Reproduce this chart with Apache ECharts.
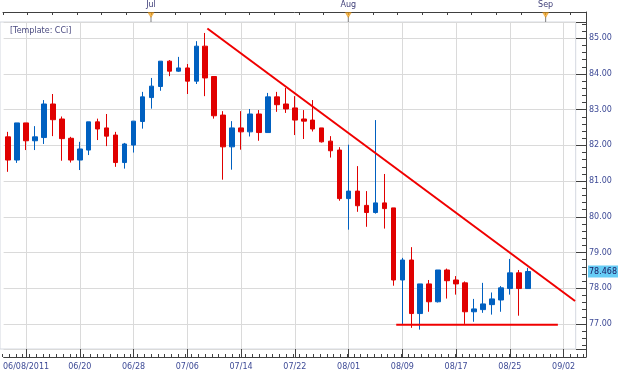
<!DOCTYPE html>
<html><head><meta charset="utf-8">
<script src="https://cdn.jsdelivr.net/npm/echarts@6/dist/echarts.min.js"></script>
<style>html,body{margin:0;padding:0;background:#fff}#c{width:625px;height:375px}</style>
</head><body><div id="c"></div>
<script>
// ---- data ----
const dates = ['06/06','06/07','06/08','06/09','06/10','06/13','06/14','06/17','06/20','06/21','06/22','06/23','06/24','06/27','06/28','06/30','07/01','07/03','07/04','07/05','07/06','07/07','07/08','07/11','07/12','07/13','07/14','07/15','07/18','07/19','07/20','07/21','07/22','07/25','07/26','07/27','07/28','07/29','08/01','08/02','08/03','08/04','08/05','08/08','08/09','08/10','08/11','08/12','08/15','08/16','08/17','08/18','08/19','08/22','08/23','08/24','08/25','08/26','08/29','08/30','08/31','09/01','09/02','09/05','09/06'];
const opens  = [82.24,81.59,82.63,82.13,82.22,83.16,82.74,82.20,81.59,81.87,82.66,82.49,82.29,81.52,82.01,82.67,83.34,83.65,84.36,84.08,84.17,83.80,84.78,83.93,82.85,81.96,82.49,82.38,82.88,82.36,83.36,83.16,83.05,82.74,82.71,82.49,82.12,81.87,80.51,80.72,80.32,80.12,80.39,80.25,78.23,78.79,77.29,78.12,77.62,78.51,78.23,78.15,77.34,77.40,77.54,77.67,77.99,78.43,77.99];
const highs  = [82.38,82.63,82.63,82.54,83.27,83.44,82.81,82.24,82.10,82.66,82.75,82.88,82.38,82.07,82.68,83.50,83.89,84.36,84.39,84.48,84.28,84.92,85.15,83.93,82.96,82.68,82.96,83.02,82.99,83.47,83.50,83.61,83.38,82.99,83.27,82.49,82.26,81.95,82.02,81.42,80.72,82.71,81.20,80.25,78.85,79.15,78.12,78.23,78.51,78.55,78.34,78.19,77.70,78.15,77.88,78.06,78.82,78.51,78.57];
const lows   = [81.26,81.51,81.87,81.87,82.04,82.26,81.57,81.52,81.31,81.73,82.15,81.98,81.40,81.35,81.80,82.47,83.03,83.53,83.94,84.06,83.44,83.72,83.38,82.75,81.04,81.32,81.88,82.25,82.13,82.36,82.94,82.91,82.29,82.18,82.39,82.08,81.66,80.45,79.64,80.14,79.72,80.09,79.67,78.07,77.00,76.89,76.84,77.34,77.60,77.71,77.82,77.00,77.06,77.31,77.26,77.34,77.82,77.23,77.99];
const closes = [81.59,82.63,82.13,82.24,83.16,82.72,82.19,81.59,81.90,82.66,82.46,82.26,81.52,82.04,82.68,83.36,83.66,84.36,84.08,84.17,83.80,84.78,83.89,82.83,81.96,82.49,82.38,82.88,82.36,83.36,83.14,83.02,82.71,82.68,82.46,82.10,81.85,80.51,80.72,80.31,80.12,80.39,80.23,78.23,78.79,77.29,78.12,77.62,78.51,78.21,78.12,77.34,77.42,77.56,77.70,78.01,78.43,77.99,78.468];
const xTickLabels = ['06/08/2011','06/20','06/28','07/06','07/14','07/22','08/01','08/09','08/17','08/25','09/02'];
const monthLabels = ['Jul','Aug','Sep'];
const monthIdx = [16, 38, 60];
const trendLine = [[22.24, 85.275], [63.28, 77.641]];
const supportLine = [[43.32, 76.978], [61.36, 76.978]];
const yMin = 76.297, yMax = 85.457;
const lastPrice = closes[closes.length - 1];

// ---- styling ----
const FONT = 'DejaVu Sans';
const AXIS = '#404040';
const LABEL = '#3d4a96';
const GRIDC = '#dadada';
const UP = '#0060c0', DOWN = '#e00000';
const LINE_RED = '#f00000';
const isLabelIdx = (i) => i >= 2 && (i - 2) % 6 === 0;

const candleData = opens.map((o, i) => [o, closes[i], lows[i], highs[i]]);

const chart = echarts.init(document.getElementById('c'), null, {renderer: 'canvas'});
chart.setOption({
  animation: false,
  backgroundColor: '#ffffff',
  title: {text: '[Template: CCi]', left: 5, top: 22,
    textStyle: {fontSize: 8, fontWeight: 'normal', color: '#4a4a80', fontFamily: FONT}},
  grid: [
    {left: 0, right: 39, top: 22, bottom: 26},
    {left: 0, right: 49.3, top: 22, bottom: 26, show: true, borderColor: '#d4d8e0', borderWidth: 1, backgroundColor: 'transparent'},
    {left: 0, right: 39, top: 12, bottom: 18},
    {left: 2.254, right: 41.3, top: 22, bottom: 18}
  ],
  xAxis: [
    {gridIndex: 0, type: 'category', data: dates, boundaryGap: true, position: 'bottom', offset: 8,
      axisLine: {show: true, onZero: false, lineStyle: {color: AXIS}},
      axisTick: {show: true, inside: true, length: 8, alignWithLabel: true, interval: isLabelIdx, lineStyle: {color: AXIS}},
      axisLabel: {interval: isLabelIdx, formatter: (v, i) => xTickLabels[(i - 2) / 6] || '',
        fontSize: 8, color: LABEL, margin: 6, fontFamily: FONT},
      splitLine: {show: true, interval: isLabelIdx, alignWithLabel: true, lineStyle: {color: GRIDC}}},
    {gridIndex: 0, type: 'value', min: -0.5, max: 64.5, show: false},
    {gridIndex: 2, type: 'value', position: 'top', min: 0, max: 65, interval: 2.75,
      axisLine: {show: true, onZero: false, lineStyle: {color: AXIS}},
      axisTick: {show: true, inside: true, length: 3, lineStyle: {color: AXIS}},
      axisLabel: {formatter: (v) => { const k = monthIdx.findIndex(m => Math.abs(m + 0.5 - v) < 0.01); return k >= 0 ? monthLabels[k] : ''; },
        fontSize: 8, color: '#40407a', margin: 3, fontFamily: FONT},
      splitLine: {show: false}},
    {gridIndex: 3, type: 'value', min: 0, max: 64.5, interval: 0.75,
      axisLine: {show: false, onZero: false}, axisTick: {show: true, inside: true, length: 3, lineStyle: {color: AXIS}},
      axisLabel: {show: false}, splitLine: {show: false}},
    {gridIndex: 1, type: 'value', show: false}
  ],
  yAxis: [
    {gridIndex: 0, type: 'value', position: 'right', min: yMin, max: yMax, splitNumber: 9, scale: true,
      axisLine: {show: true, onZero: false, lineStyle: {color: AXIS}},
      axisTick: {show: true, inside: true, length: 10, lineStyle: {color: AXIS}},
      minorTick: {show: true, splitNumber: 5, length: 4, lineStyle: {color: AXIS}},
      axisLabel: {formatter: (v) => v.toFixed(2), showMinLabel: false, showMaxLabel: false,
        fontSize: 8, color: LABEL, margin: 3, fontFamily: FONT},
      splitLine: {show: true, lineStyle: {color: GRIDC}}},
    {gridIndex: 2, type: 'value', position: 'right', min: 0, max: 1,
      axisLine: {show: true, onZero: false, lineStyle: {color: AXIS}}, axisTick: {show: false}, axisLabel: {show: false}, splitLine: {show: false}},
    {gridIndex: 3, type: 'value', show: false},
    {gridIndex: 1, type: 'value', show: false}
  ],
  series: [
    {type: 'candlestick', xAxisIndex: 0, yAxisIndex: 0, data: candleData, barWidth: 5,
      itemStyle: {color: UP, color0: DOWN, borderColor: UP, borderColor0: DOWN, borderWidth: 1},
      markLine: {silent: true, symbol: 'none', animation: false, precision: 3,
        lineStyle: {color: 'rgba(0,0,0,0)', width: 1, type: 'solid'},
        label: {show: true, position: 'end', formatter: () => lastPrice.toFixed(3), backgroundColor: '#66ccf5',
          color: '#1a1a60', fontSize: 8, padding: [2, 1, 2, 1], distance: 2, fontFamily: FONT, opacity: 1},
        emphasis: {disabled: true},
        data: [{yAxis: lastPrice}]}},
    {type: 'line', xAxisIndex: 1, yAxisIndex: 0, data: trendLine, symbol: 'none', z: 5,
      lineStyle: {color: LINE_RED, width: 2}},
    {type: 'line', xAxisIndex: 1, yAxisIndex: 0, data: supportLine, symbol: 'none', z: 5,
      lineStyle: {color: LINE_RED, width: 2}},
    {type: 'scatter', xAxisIndex: 2, yAxisIndex: 1, clip: false, silent: true,
      data: monthIdx.map(i => [i + 0.5, 1]), symbol: 'rect', symbolSize: [1, 6], symbolOffset: [0, 7],
      itemStyle: {color: '#606060'}},
    {type: 'scatter', xAxisIndex: 2, yAxisIndex: 1, clip: false, silent: true,
      data: monthIdx.map(i => [i + 0.5, 1]), symbol: 'triangle', symbolRotate: 180, symbolSize: [6, 5], symbolOffset: [0, 3],
      itemStyle: {color: '#f5a623', borderColor: '#d98a10', borderWidth: 0.5}}
  ]
});
</script></body></html>
